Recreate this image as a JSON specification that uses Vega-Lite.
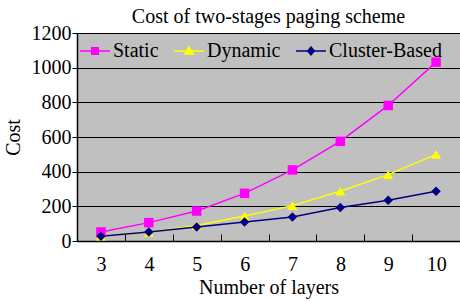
{
  "$schema": "https://vega.github.io/schema/vega-lite/v6.json",
  "autosize": "none",
  "width": 383,
  "height": 208,
  "padding": {"left": 77, "top": 33, "right": 0, "bottom": 60},
  "background": "white",
  "title": {"text": "Cost of two-stages paging scheme", "font": "Liberation Serif", "fontSize": 20, "fontWeight": "normal", "color": "black", "anchor": "middle", "offset": -4},
  "config": {
    "view": {"fill": "#C0C0C0", "stroke": null},
    "axis": {"labelFont": "Liberation Serif", "titleFont": "Liberation Serif", "labelFontSize": 20, "titleFontSize": 20, "titleFontWeight": "normal", "labelColor": "black", "titleColor": "black", "domainColor": "black", "tickColor": "black", "gridColor": "black", "gridOpacity": 1},
    "legend": {"labelFont": "Liberation Serif", "labelFontSize": 20, "labelColor": "black"}
  },
  "data": {"values": [
    {"layers": 3, "series": "Static", "cost": 52},
    {"layers": 4, "series": "Static", "cost": 106},
    {"layers": 5, "series": "Static", "cost": 173},
    {"layers": 6, "series": "Static", "cost": 275},
    {"layers": 7, "series": "Static", "cost": 410},
    {"layers": 8, "series": "Static", "cost": 575},
    {"layers": 9, "series": "Static", "cost": 782},
    {"layers": 10, "series": "Static", "cost": 1032},
    {"layers": 3, "series": "Dynamic", "cost": 28},
    {"layers": 4, "series": "Dynamic", "cost": 50},
    {"layers": 5, "series": "Dynamic", "cost": 90},
    {"layers": 6, "series": "Dynamic", "cost": 144},
    {"layers": 7, "series": "Dynamic", "cost": 204},
    {"layers": 8, "series": "Dynamic", "cost": 287},
    {"layers": 9, "series": "Dynamic", "cost": 383},
    {"layers": 10, "series": "Dynamic", "cost": 500},
    {"layers": 3, "series": "Cluster-Based", "cost": 28},
    {"layers": 4, "series": "Cluster-Based", "cost": 52},
    {"layers": 5, "series": "Cluster-Based", "cost": 81},
    {"layers": 6, "series": "Cluster-Based", "cost": 110},
    {"layers": 7, "series": "Cluster-Based", "cost": 139},
    {"layers": 8, "series": "Cluster-Based", "cost": 193},
    {"layers": 9, "series": "Cluster-Based", "cost": 235},
    {"layers": 10, "series": "Cluster-Based", "cost": 287}
  ]},
  "encoding": {
    "x": {"field": "layers", "type": "quantitative", "scale": {"domain": [2.5, 10.5], "nice": false, "zero": false},
      "axis": {"title": "Number of layers", "labelFont": "Liberation Serif", "titleFont": "Liberation Serif", "values": [2.5, 3.5, 4.5, 5.5, 6.5, 7.5, 8.5, 9.5], "labelExpr": "datum.value + 0.5", "labelOffset": 24, "labelOverlap": false, "labelBound": false, "labelFlush": false, "grid": false, "tickSize": -7, "tickWidth": 1, "domainWidth": 1.5, "labelPadding": 20, "titlePadding": 3}},
    "y": {"field": "cost", "type": "quantitative", "scale": {"domain": [0, 1200], "nice": false},
      "axis": {"title": "Cost", "labelFont": "Liberation Serif", "titleFont": "Liberation Serif", "format": "d", "values": [0, 200, 400, 600, 800, 1000, 1200], "grid": true, "gridWidth": 1, "tickSize": 5, "domainWidth": 1.5, "labelPadding": 1, "titlePadding": 8}},
    "color": {"field": "series", "type": "nominal", "sort": ["Static", "Dynamic", "Cluster-Based"],
      "scale": {"domain": ["Static", "Dynamic", "Cluster-Based"], "range": ["#FF00FF", "#FFFF00", "#000080"]},
      "legend": {"title": null, "labelFont": "Liberation Serif", "orient": "top-left", "direction": "horizontal", "offset": 2, "columnPadding": 12, "labelOffset": 2, "symbolSize": 900, "symbolStrokeWidth": 1.5, "symbolType": "M-1,0H1M-0.22,-0.22H0.22V0.22H-0.22Z",
        "encode": {"symbols": {"update": {"shape": {"signal": "datum.value == 'Static' ? 'M-1,0H1M-0.22,-0.22H0.22V0.22H-0.22Z' : datum.value == 'Dynamic' ? 'M-1,0H1M0,-0.28L0.28,0.2H-0.28Z' : 'M-1,0H1M0,-0.26L0.22,0L0,0.26L-0.22,0Z'"}, "fill": {"signal": "datum.value == 'Static' ? '#FF00FF' : datum.value == 'Dynamic' ? '#FFFF00' : '#000080'"}, "stroke": {"signal": "datum.value == 'Static' ? '#FF00FF' : datum.value == 'Dynamic' ? '#FFFF00' : '#000080'"}, "fillOpacity": {"value": 1}, "strokeOpacity": {"value": 1}}}}}}
  },
  "layer": [
    {"mark": {"type": "line", "strokeWidth": 1.5}, "encoding": {"detail": {"field": "series"}}},
    {"transform": [{"filter": "datum.series == 'Static'"}], "mark": {"type": "point", "shape": "square", "size": 90, "filled": true, "opacity": 1}},
    {"transform": [{"filter": "datum.series == 'Dynamic'"}], "mark": {"type": "point", "shape": "triangle-up", "size": 100, "filled": true, "opacity": 1}},
    {"transform": [{"filter": "datum.series == 'Cluster-Based'"}], "mark": {"type": "point", "shape": "diamond", "size": 90, "filled": true, "opacity": 1}}
  ]
}
